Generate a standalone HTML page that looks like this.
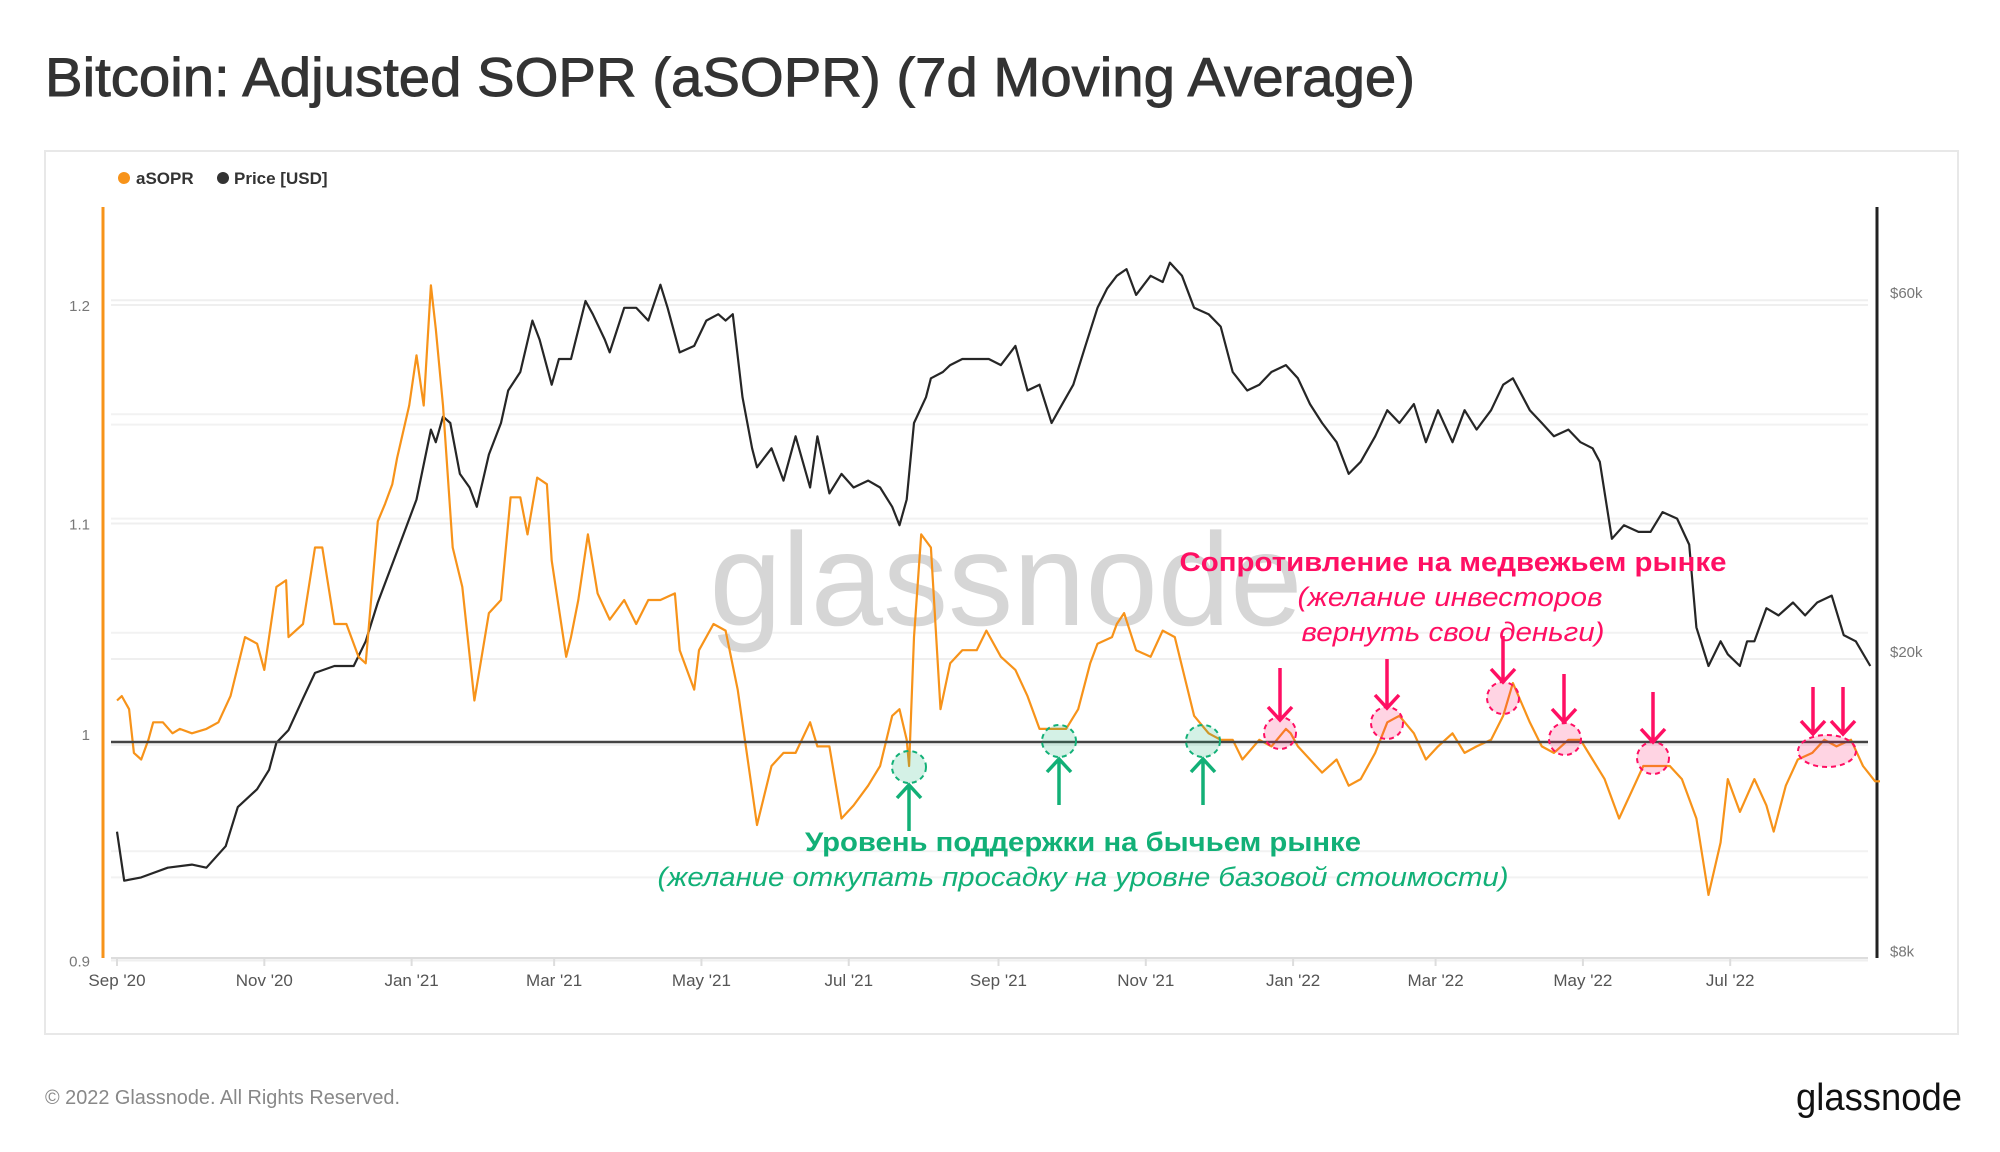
<!DOCTYPE html>
<html><head><meta charset="utf-8">
<style>
html,body{margin:0;padding:0;background:#fff;}
svg{display:block;font-family:"Liberation Sans",sans-serif;}
</style></head>
<body>
<svg id="chart" width="2000" height="1152" viewBox="0 0 2000 1152" xmlns="http://www.w3.org/2000/svg">
  <rect width="2000" height="1152" fill="#fff"/>
  <text x="45" y="96" font-size="55" fill="#333" stroke="#333" stroke-width="0.9" textLength="1370" lengthAdjust="spacingAndGlyphs">Bitcoin: Adjusted SOPR (aSOPR) (7d Moving Average)</text>
  <rect x="45" y="151" width="1913" height="883" fill="none" stroke="#e8e8e8" stroke-width="2"/>
  <g>
    <g>
      <circle cx="124" cy="178" r="6" fill="#f7931a"/>
      <text x="136" y="184" font-size="17" font-weight="bold" fill="#333">aSOPR</text>
    </g>
    <g>
      <circle cx="223" cy="178" r="6" fill="#333"/>
      <text x="234" y="184" font-size="17" font-weight="bold" fill="#333">Price [USD]</text>
    </g>
  </g>
  <g id="grid"></g>
  <text x="1006" y="625" font-size="132" fill="#d6d6d6" text-anchor="middle" textLength="593" lengthAdjust="spacingAndGlyphs">glassnode</text>
  <g id="axes"></g>
  <g id="series"></g>
  <g id="annot">
    <text x="1453" y="571" font-size="27" font-weight="bold" fill="#ff0f63" text-anchor="middle" textLength="547" lengthAdjust="spacingAndGlyphs">Сопротивление на медвежьем рынке</text>
    <text x="1450" y="606" font-size="27" font-style="italic" fill="#ff0f63" text-anchor="middle" textLength="305" lengthAdjust="spacingAndGlyphs">(желание инвесторов</text>
    <text x="1453" y="641" font-size="27" font-style="italic" fill="#ff0f63" text-anchor="middle" textLength="303" lengthAdjust="spacingAndGlyphs">вернуть свои деньги)</text>
    <text x="1083" y="851" font-size="27" font-weight="bold" fill="#12b077" text-anchor="middle" textLength="556" lengthAdjust="spacingAndGlyphs">Уровень поддержки на бычьем рынке</text>
    <text x="1083" y="886" font-size="27" font-style="italic" fill="#12b077" text-anchor="middle" textLength="851" lengthAdjust="spacingAndGlyphs">(желание откупать просадку на уровне базовой стоимости)</text>
  </g>
  <text x="45" y="1104" font-size="20" fill="#888" textLength="355" lengthAdjust="spacingAndGlyphs">© 2022 Glassnode. All Rights Reserved.</text>
  <text x="1962" y="1110" font-size="38" fill="#111" text-anchor="end" textLength="166" lengthAdjust="spacingAndGlyphs">glassnode</text>
</svg>
<script>
const xTickLabels = ["Sep '20","Nov '20","Jan '21","Mar '21","May '21","Jul '21","Sep '21","Nov '21","Jan '22","Mar '22","May '22","Jul '22"];
const xTickDays = [0,61,122,181,242,303,365,426,487,546,607,668];
const leftTicks = [1.2,1.1,1,0.9];
const leftTickLabels = ["1.2","1.1","1","0.9"];
const rightTicks = [60000,20000,8000];
const rightTickLabels = ["$60k","$20k","$8k"];

const priceDays = [0,3,10,21,31,37,45,50,58,63,66,71,77,82,90,98,103,108,114,119,124,130,132,135,138,142,146,149,154,159,162,167,172,175,180,183,188,194,197,202,204,210,215,220,225,228,233,239,244,249,252,255,259,263,265,271,276,281,287,290,295,300,305,311,316,321,324,327,330,335,337,342,345,350,356,361,366,372,377,382,387,390,396,401,406,410,414,418,422,428,433,436,441,446,452,457,462,468,473,478,484,489,494,499,505,510,515,521,526,531,537,542,547,553,558,563,569,574,578,585,590,595,601,606,611,614,619,624,630,635,640,646,651,654,659,664,667,672,675,678,683,688,694,699,704,710,715,720,726,730];
const priceValues = [11.5,9.9,10.0,10.3,10.4,10.3,11.0,12.4,13.1,13.9,15.1,15.7,17.3,18.7,19.1,19.1,20.6,23.2,26.1,28.8,31.8,39.4,37.9,41.0,40.2,34.4,33.0,31.1,36.5,40.2,44.4,47.0,55.0,51.9,45.2,48.9,48.9,58.4,56.1,51.9,49.9,57.2,57.2,55.0,61.4,57.2,49.9,50.9,55.0,56.1,55.0,56.1,43.5,37.2,35.1,37.2,33.7,38.6,33.0,38.6,32.4,34.4,33.0,33.7,33.0,31.1,29.4,31.8,40.2,43.5,46.1,47.0,48.0,48.9,48.9,48.9,48.0,50.9,44.4,45.2,40.2,41.8,45.2,50.9,57.2,60.7,63.1,64.4,59.5,63.1,61.9,65.7,63.1,57.2,56.1,54.0,47.0,44.4,45.2,47.0,48.0,46.1,42.6,40.2,37.9,34.4,35.7,38.6,41.8,40.2,42.6,37.9,41.8,37.9,41.8,39.4,41.8,45.2,46.1,41.8,40.2,38.6,39.4,37.9,37.2,35.7,28.2,29.4,28.8,28.8,30.6,30.0,27.7,21.5,19.1,20.6,19.8,19.1,20.6,20.6,22.8,22.3,23.2,22.3,23.2,23.7,21.0,20.6,19.1];

const soprDays = [0,2,5,7,10,13,15,19,23,26,31,37,42,47,53,58,61,66,70,71,77,82,85,90,95,100,103,108,111,114,116,121,124,127,130,132,135,139,143,148,154,159,163,167,170,174,178,180,186,188,191,195,199,204,210,215,220,225,231,233,239,241,247,252,257,260,265,271,276,281,287,290,295,300,305,311,316,321,324,327,328,330,333,337,341,345,350,356,360,366,372,377,382,388,393,398,403,406,412,414,417,422,428,433,438,446,452,457,462,466,473,478,484,486,489,494,499,505,510,515,521,526,531,537,542,547,553,558,563,569,574,578,585,590,595,601,606,611,616,622,627,632,637,643,648,654,659,664,667,672,678,683,686,691,696,702,707,712,718,723,728,730];
const soprValues = [1.019,1.021,1.015,0.995,0.992,1.001,1.009,1.009,1.004,1.006,1.004,1.006,1.009,1.021,1.048,1.045,1.033,1.071,1.074,1.048,1.054,1.089,1.089,1.054,1.054,1.039,1.036,1.101,1.109,1.118,1.130,1.154,1.177,1.154,1.209,1.189,1.154,1.089,1.071,1.019,1.059,1.065,1.112,1.112,1.095,1.121,1.118,1.083,1.039,1.048,1.065,1.095,1.068,1.056,1.065,1.054,1.065,1.065,1.068,1.042,1.024,1.042,1.054,1.051,1.024,1.001,0.962,0.989,0.995,0.995,1.009,0.998,0.998,0.965,0.971,0.980,0.989,1.012,1.015,1.001,0.989,1.048,1.095,1.089,1.015,1.036,1.042,1.042,1.051,1.039,1.033,1.021,1.006,1.006,1.006,1.015,1.036,1.045,1.048,1.054,1.059,1.042,1.039,1.051,1.048,1.012,1.004,1.001,1.001,0.992,1.001,0.998,1.006,1.004,0.998,0.992,0.986,0.992,0.980,0.983,0.995,1.009,1.012,1.004,0.992,0.998,1.004,0.995,0.998,1.001,1.012,1.027,1.009,0.998,0.995,1.001,1.001,0.992,0.983,0.965,0.977,0.989,0.989,0.989,0.983,0.965,0.930,0.954,0.983,0.968,0.983,0.971,0.959,0.980,0.992,0.995,1.001,0.998,1.001,0.989,0.982,0.982];

const NS = "http://www.w3.org/2000/svg";
const X0 = 111, X1 = 1868, Y0 = 207, Y1 = 958;
function xScale(d){ return 117 + d*2.415; }
function ySopr(v){ return 742 - (v-1)*2185; }
function yPrice(k){ return 651 - Math.log10(k*1000/20000)*752; }
function yPriceUsd(p){ return 651 - Math.log10(p/20000)*752; }
function mk(tag, attrs, parent){ const e=document.createElementNS(NS,tag); for(const k in attrs) e.setAttribute(k,attrs[k]); parent.appendChild(e); return e; }

const grid = document.getElementById('grid');
leftTicks.forEach((v)=>{
  if(v===1) return;
  const l = mk('line',{x1:X0,x2:X1,y1:ySopr(v),y2:ySopr(v),stroke:'#efefef','stroke-width':2},grid);
  
  
});
rightTicks.forEach((p)=>{
  const l = mk('line',{x1:X0,x2:X1,y1:yPriceUsd(p)+8,y2:yPriceUsd(p)+8,stroke:'#efefef','stroke-width':2},grid);
  
  
});
[40000,30000,15000,10000].forEach((p)=>{
  const l = mk('line',{x1:X0,x2:X1,y1:yPriceUsd(p),y2:yPriceUsd(p),stroke:'#f2f2f2','stroke-width':2},grid);
  
  
});
[1.15,1.05,0.95].forEach((v)=>{
  const l = mk('line',{x1:X0,x2:X1,y1:ySopr(v),y2:ySopr(v),stroke:'#f2f2f2','stroke-width':2},grid);
  
  
});

const axes = document.getElementById('axes');
let a = mk('line',{x1:103,x2:103,y1:Y0,y2:Y1,stroke:'#f7931a','stroke-width':3},axes);
 
a = mk('line',{x1:1877,x2:1877,y1:Y0,y2:Y1,stroke:'#222','stroke-width':3},axes);
 
a = mk('line',{x1:X0,x2:X1,y1:Y1,y2:Y1,stroke:'#ddd','stroke-width':2},axes);
 
leftTicks.forEach((v,i)=>{
  const t = mk('text',{x:90,y:ySopr(v)+ (v===1?-2:6),'font-size':15,fill:'#777','text-anchor':'end'},axes);
  t.textContent = leftTickLabels[i];
  
  
});
rightTicks.forEach((p,i)=>{
  const t = mk('text',{x:1890,y:yPriceUsd(p)+6,'font-size':15,fill:'#777'},axes);
  t.textContent = rightTickLabels[i];
  
  
});
xTickDays.forEach((d,i)=>{
  const tk = mk('line',{x1:xScale(d),x2:xScale(d),y1:Y1,y2:Y1+8,stroke:'#ddd','stroke-width':2},axes);
  
  
  const t = mk('text',{x:xScale(d),y:986,'font-size':17,fill:'#555','text-anchor':'middle'},axes);
  t.textContent = xTickLabels[i];
  
  
});

const series = document.getElementById('series');
let dPrice = priceDays.map((d,i)=>(i?'L':'M')+xScale(d).toFixed(1)+','+yPrice(priceValues[i]).toFixed(1)).join(' ');
const pl = mk('path',{d:dPrice,fill:'none',stroke:'#262626','stroke-width':2.2,'stroke-linejoin':'round'},series);


let dSopr = soprDays.map((d,i)=>(i?'L':'M')+xScale(d).toFixed(1)+','+ySopr(soprValues[i]).toFixed(1)).join(' ');
const sl = mk('path',{d:dSopr,fill:'none',stroke:'#f7931a','stroke-width':2.2,'stroke-linejoin':'round'},series);


const base = mk('line',{x1:X0,x2:X1,y1:ySopr(1),y2:ySopr(1),stroke:'#444','stroke-width':2.5},series);



const annot = document.getElementById('annot');
const redC = [[1280,733,16,16],[1387,723,16,16],[1503,698,16,16],[1565,739,16,16],[1653,758,16,16],[1827,751,29,16]];
const redA = [[1280,668,720],[1387,659,708],[1503,636,682],[1564,674,722],[1653,692,742],[1813,687,734],[1843,687,734]];
const greenC = [[909,767],[1059,741],[1203,741]];
const greenA = [[909,785,831],[1059,759,805],[1203,759,805]];
redC.forEach(c=>{
  const e = mk('ellipse',{cx:c[0],cy:c[1],rx:c[2],ry:c[3],fill:'rgba(255,15,99,0.18)',stroke:'#ff0f63','stroke-width':2,'stroke-dasharray':'5 4'},annot);
  
  
});
redA.forEach(r=>{
  const p = mk('path',{d:`M${r[0]},${r[1]} L${r[0]},${r[2]} M${r[0]-12},${r[2]-13} L${r[0]},${r[2]} L${r[0]+12},${r[2]-13}`,fill:'none',stroke:'#ff0f63','stroke-width':3.5},annot);
  
  
});
greenC.forEach(c=>{
  const e = mk('ellipse',{cx:c[0],cy:c[1],rx:17,ry:16,fill:'rgba(18,176,119,0.18)',stroke:'#12b077','stroke-width':2,'stroke-dasharray':'5 4'},annot);
  
  
});
greenA.forEach(r=>{
  const p = mk('path',{d:`M${r[0]},${r[2]} L${r[0]},${r[1]} M${r[0]-12},${r[1]+13} L${r[0]},${r[1]} L${r[0]+12},${r[1]+13}`,fill:'none',stroke:'#12b077','stroke-width':3.5},annot);
  
  
});
</script>
</body></html>
